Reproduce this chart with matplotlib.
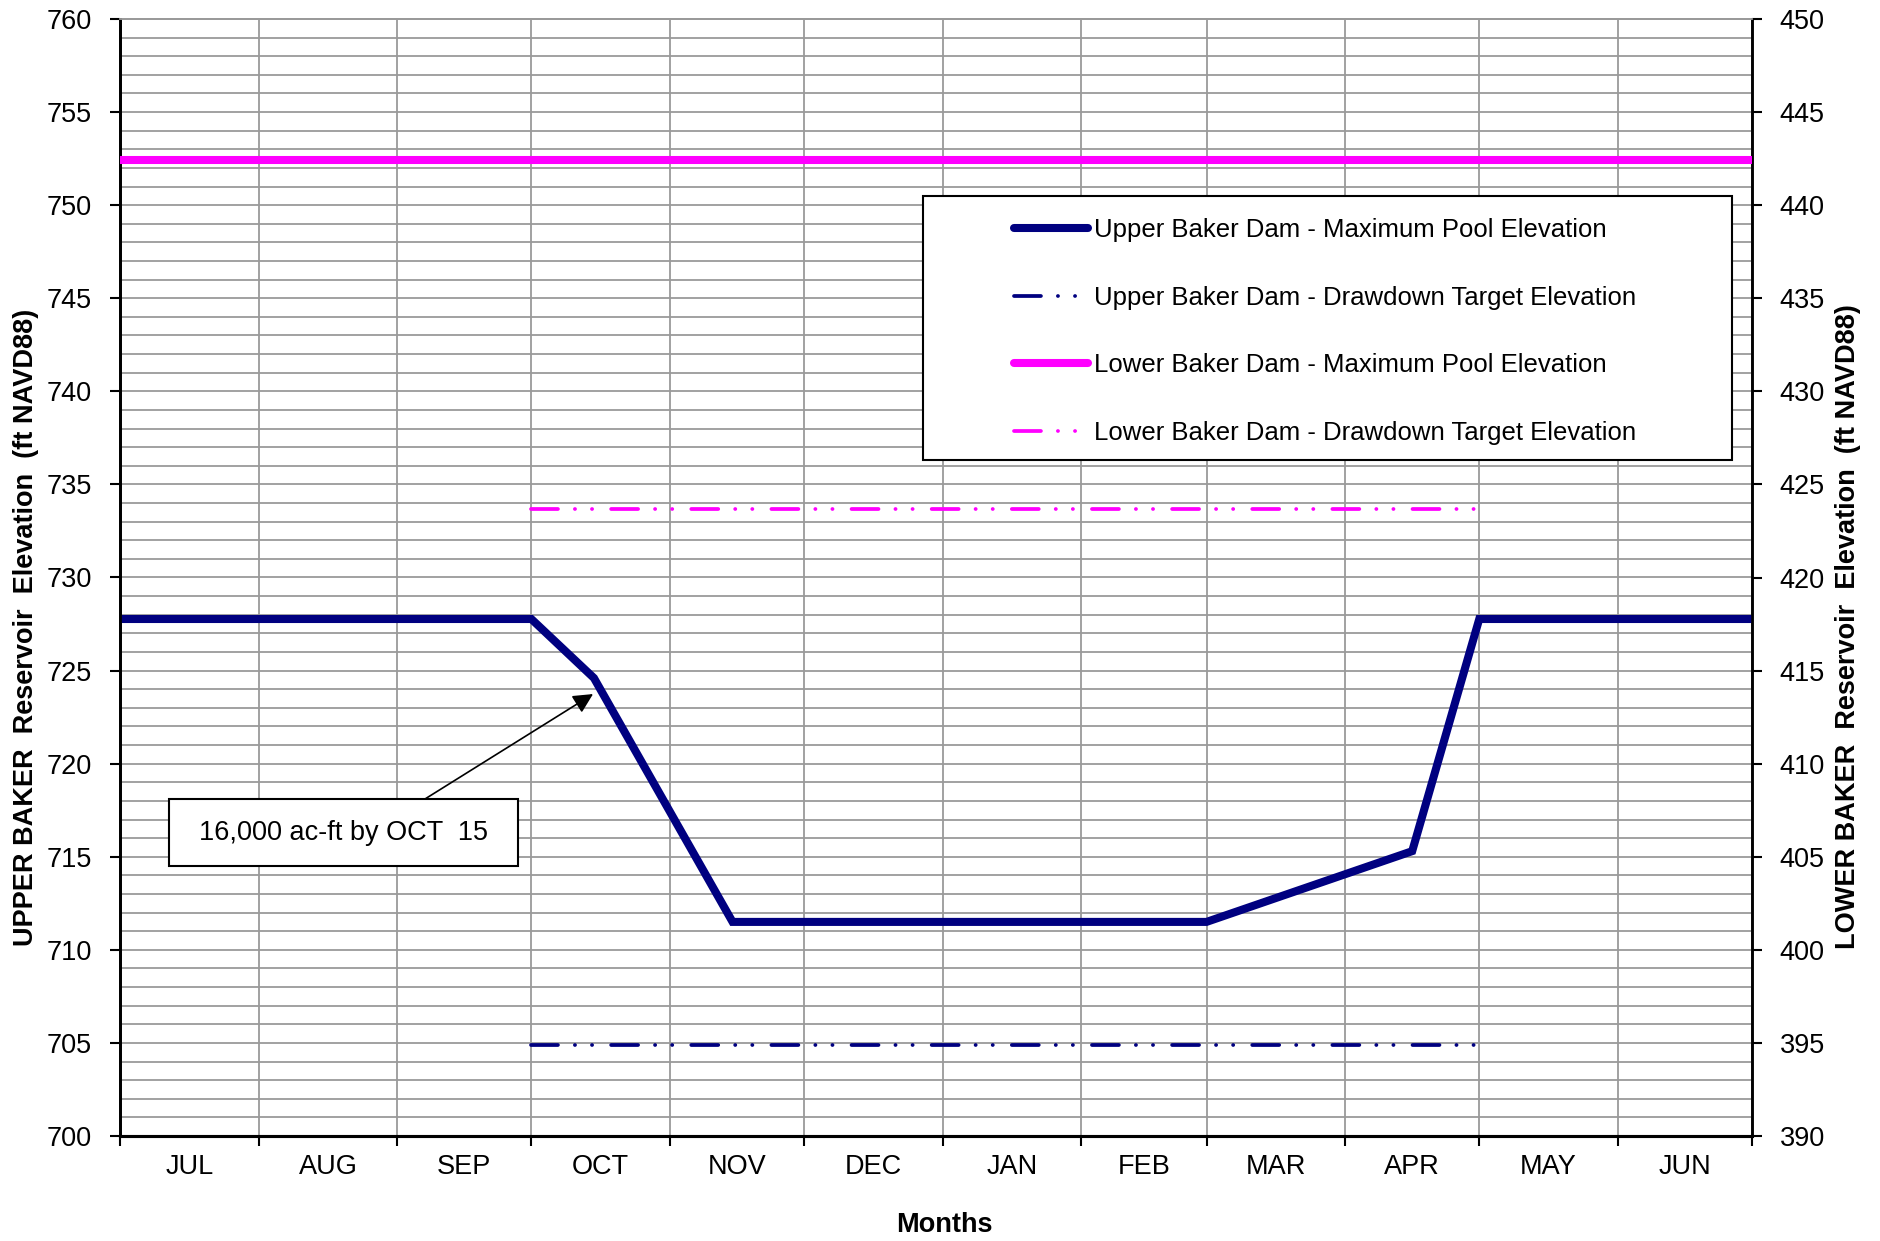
import matplotlib
matplotlib.use("Agg")
import matplotlib.pyplot as plt
from matplotlib.patches import Rectangle
import numpy as np

plt.rcParams['font.family'] = ['Liberation Sans', 'DejaVu Sans']
plt.rcParams['lines.scale_dashes'] = False

# Water-year months, x axis measured in days from 1 July
months = ["JUL", "AUG", "SEP", "OCT", "NOV", "DEC", "JAN", "FEB", "MAR", "APR", "MAY", "JUN"]
month_days = [31, 31, 30, 31, 30, 31, 31, 28, 31, 30, 31, 30]

# Upper Baker maximum pool elevation (ft NAVD88, left axis)
upper_max_day = [0, 92, 106, 137, 243, 289, 304, 365]
upper_max_elev = [727.77, 727.77, 724.6, 711.5, 711.5, 715.3, 727.77, 727.77]

# Upper Baker drawdown target elevation (left axis)
upper_target_day = [92, 303]
upper_target_elev = [704.9, 704.9]

# Lower Baker maximum pool and drawdown target (ft NAVD88, right axis)
lower_max_day = [0, 365]
lower_max_elev = [442.4, 442.4]
lower_target_day = [92, 303]
lower_target_elev = [423.7, 423.7]

series_labels = [
    "Upper Baker Dam - Maximum Pool Elevation",
    "Upper Baker Dam - Drawdown Target Elevation",
    "Lower Baker Dam - Maximum Pool Elevation",
    "Lower Baker Dam - Drawdown Target Elevation",
]

NAVY = "#000080"
MAGENTA = "#FF00FF"
GRID = "#9a9a9a"
DASH_DOT_DOT = (0, (19.4, 12.2, 0.1, 12.2, 0.1, 13.7))

boundaries = np.concatenate([[0], np.cumsum(month_days)])
centers = (boundaries[:-1] + boundaries[1:]) / 2

fig = plt.figure(figsize=(18.81, 12.41), dpi=100)
ax = fig.add_axes([120 / 1881, 1 - 1136 / 1241, 1632 / 1881, 1117 / 1241])
ax2 = ax.twinx()

ax.set_xlim(0, 365)
ax.set_ylim(700, 760)
ax2.set_ylim(390, 450)

# grid: month boundaries vertically, every foot horizontally
ax.set_xticks(boundaries)
ax.set_xticklabels([""] * len(boundaries))
ax.set_xticks(centers, minor=True)
ax.set_xticklabels(months, minor=True)
ax.set_yticks(np.arange(700, 761, 5))
ax.set_yticks(np.arange(700, 761, 1), minor=True)
ax2.set_yticks(np.arange(390, 451, 5))
ax.grid(which="major", axis="x", color=GRID, lw=1.3)
ax.grid(which="both", axis="y", color=GRID, lw=1.3)
ax.set_axisbelow(True)

ax.tick_params(axis="y", which="major", direction="out", length=7, width=1.5,
               labelsize=19.5, pad=13)
ax.tick_params(axis="y", which="minor", length=0)
ax.tick_params(axis="x", which="major", direction="out", length=7, width=1.5)
ax.tick_params(axis="x", which="minor", length=0, labelsize=19.5, pad=13)
ax2.tick_params(axis="y", which="major", direction="out", length=7, width=1.5,
                labelsize=19.5, pad=13)

for a in (ax, ax2):
    a.spines["top"].set_color(GRID)
    a.spines["top"].set_linewidth(1.3)
    a.spines["left"].set_linewidth(2.0)
    a.spines["right"].set_linewidth(1.8)
    a.spines["bottom"].set_linewidth(2.2)

l1, = ax.plot(upper_max_day, upper_max_elev, color=NAVY, lw=5.8,
              solid_capstyle="round", solid_joinstyle="miter", zorder=4)
l2, = ax.plot(upper_target_day, upper_target_elev, color=NAVY, lw=2.7,
              linestyle=DASH_DOT_DOT, dash_capstyle="round", zorder=4)
l3, = ax2.plot(lower_max_day, lower_max_elev, color=MAGENTA, lw=5.8,
               solid_capstyle="round", zorder=4)
l4, = ax2.plot(lower_target_day, lower_target_elev, color=MAGENTA, lw=2.7,
               linestyle=DASH_DOT_DOT, dash_capstyle="round", zorder=4)

# legend with its own framed box
ax2.add_patch(Rectangle((0.492, 0.605), 0.496, 0.2365, transform=ax2.transAxes,
                        facecolor="white", edgecolor="black", lw=1.5, zorder=5))
leg = ax2.legend([l1, l2, l3, l4], series_labels, loc="upper left",
                 bbox_to_anchor=(0.5478, 0.8215), bbox_transform=ax2.transAxes,
                 frameon=False, fontsize=18.5, borderpad=0, borderaxespad=0,
                 handlelength=2.88, handletextpad=0.23, labelspacing=1.69)
leg.set_zorder(6)

# annotation box and arrow
box_x0, box_x1, box_y0, box_y1 = 10.96, 89.0, 714.5, 718.1
ax.add_patch(Rectangle((box_x0, box_y0), box_x1 - box_x0, box_y1 - box_y0,
                       facecolor="white", edgecolor="black", lw=1.5, zorder=5))
ax.text((box_x0 + box_x1) / 2, (box_y0 + box_y1) / 2, "16,000 ac-ft by OCT  15",
        ha="center", va="center", fontsize=19.5, zorder=6)
ax.annotate("", xy=(105.8, 723.74), xytext=(68.2, 718.1),
            arrowprops=dict(arrowstyle="-|>", color="black", lw=1.2,
                            mutation_scale=30, shrinkA=0, shrinkB=0), zorder=6)

fig.text(26 / 1881, 1 - 627 / 1241, "UPPER BAKER  Reservoir  Elevation  (ft NAVD88)",
         rotation=90, ha="center", va="center", fontsize=19.5, fontweight="bold")
fig.text(1848 / 1881, 1 - 627 / 1241, "LOWER BAKER  Reservoir  Elevation  (ft NAVD88)",
         rotation=90, ha="center", va="center", fontsize=19.5, fontweight="bold")
fig.text(944 / 1881, 1 - 1225 / 1241, "Months", ha="center", va="center",
         fontsize=19.5, fontweight="bold")

fig.savefig("out.png", dpi=100, facecolor="white")
